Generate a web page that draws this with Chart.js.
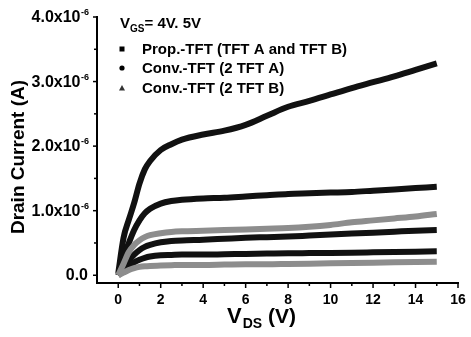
<!DOCTYPE html>
<html>
<head>
<meta charset="utf-8">
<script src="https://cdn.jsdelivr.net/npm/chart.js@4/dist/chart.umd.min.js"></script>
<style>
html,body{margin:0;padding:0;background:#fff;}
#wrap{width:471px;height:337px;position:relative;}
</style>
</head>
<body>
<div id="wrap"><canvas id="c" width="471" height="337"></canvas></div>
<script>
// ---- data (drain current in units of 1e-6 A) ----
const vds        = [0, 0.25, 0.5, 0.75, 1, 1.25, 1.5, 2, 2.5, 3, 4, 5, 6, 7, 8, 9, 10, 11, 12, 13, 14, 15];
const convA_Vgs5 = [0.03, 0.58, 0.86, 1.12, 1.42, 1.64, 1.77, 1.94, 2.03, 2.10, 2.18, 2.24, 2.33, 2.47, 2.61, 2.70, 2.80, 2.90, 2.99, 3.08, 3.18, 3.28];
const convA_Vgs4 = [0, 0.28, 0.50, 0.70, 0.85, 0.96, 1.03, 1.11, 1.15, 1.17, 1.19, 1.20, 1.22, 1.24, 1.26, 1.27, 1.28, 1.29, 1.31, 1.33, 1.35, 1.37];
const convB_Vgs5 = [0, 0.18, 0.36, 0.47, 0.54, 0.59, 0.62, 0.65, 0.67, 0.68, 0.69, 0.70, 0.71, 0.72, 0.73, 0.75, 0.78, 0.82, 0.85, 0.88, 0.91, 0.95];
const prop_Vgs5  = [0, 0.12, 0.23, 0.32, 0.39, 0.44, 0.47, 0.51, 0.53, 0.54, 0.55, 0.565, 0.58, 0.59, 0.60, 0.615, 0.63, 0.645, 0.66, 0.675, 0.69, 0.70];
const prop_Vgs4  = [0, 0.07, 0.14, 0.20, 0.24, 0.27, 0.29, 0.31, 0.315, 0.32, 0.32, 0.325, 0.33, 0.335, 0.34, 0.343, 0.346, 0.35, 0.355, 0.36, 0.365, 0.37];
const convB_Vgs4 = [0, 0.04, 0.08, 0.11, 0.13, 0.14, 0.145, 0.15, 0.155, 0.16, 0.16, 0.165, 0.17, 0.17, 0.175, 0.18, 0.185, 0.19, 0.195, 0.20, 0.205, 0.21];

const xTickLabels = ['0', '2', '4', '6', '8', '10', '12', '14', '16'];
const yTickLabels = ['0.0', '1.0', '2.0', '3.0', '4.0'];
const yTickExp = '-6';
const legendLabels = ['Prop.-TFT (TFT A and TFT B)', 'Conv.-TFT (2 TFT A)', 'Conv.-TFT (2 TFT B)'];
const vgsLabel = ['V', 'GS', '= 4V. 5V'];
const xTitle = ['V', 'DS', ' (V)'];
const yTitle = 'Drain Current (A)';

// ---- chart ----
const BLACK = '#111111', GRAY = '#8d8d8d';
const FONT = '"Liberation Sans", Arial, sans-serif';
function pts(arr){ return vds.map((v,i)=>({x:v, y:arr[i]})); }
function ds(arr, color, w){
  return {data: pts(arr), borderColor: color, backgroundColor: color, borderWidth: w,
          pointRadius: 0, cubicInterpolationMode: 'monotone', fill: false};
}

const decor = {
  id: 'decor',
  afterDraw(chart){
    const ctx = chart.ctx, xs = chart.scales.x, ys = chart.scales.y;
    const ca = chart.chartArea;
    ctx.save();
    ctx.strokeStyle = '#000'; ctx.fillStyle = '#000'; ctx.lineWidth = 1.5;
    // x ticks
    for (let v = 0; v <= 16; v++) {
      const px = xs.getPixelForValue(v);
      const len = (v % 2 === 0) ? 5 : 3;
      ctx.beginPath(); ctx.moveTo(px, ca.bottom); ctx.lineTo(px, ca.bottom + len); ctx.stroke();
    }
    // y ticks
    for (let k = 0; k <= 8; k++) {
      const py = ys.getPixelForValue(k * 0.5);
      const len = (k % 2 === 0) ? 4 : 3;
      ctx.beginPath(); ctx.moveTo(ca.left, py); ctx.lineTo(ca.left - len, py); ctx.stroke();
    }
    // x tick labels
    ctx.font = 'bold 14px ' + FONT; ctx.textAlign = 'center'; ctx.textBaseline = 'alphabetic';
    xTickLabels.forEach(t => { ctx.fillText(t, xs.getPixelForValue(parseFloat(t)), 304); });
    // y tick labels with superscript exponent
    yTickLabels.forEach(t => {
      const py = ys.getPixelForValue(parseFloat(t));
      if (t === '0.0') {
        ctx.font = 'bold 16px ' + FONT; ctx.textAlign = 'right';
        ctx.fillText(t, 88, py + 5);
      } else {
        ctx.font = 'bold 9px ' + FONT; ctx.textAlign = 'right';
        const ew = ctx.measureText(yTickExp).width;
        ctx.fillText(yTickExp, 89, py - 2);
        ctx.font = 'bold 16px ' + FONT;
        ctx.fillText(t + 'x10', 89 - ew - 0.5, py + 5);
      }
    });
    // y title
    ctx.save();
    ctx.translate(19, 157);
    ctx.rotate(-Math.PI / 2);
    ctx.font = 'bold 19px ' + FONT; ctx.textAlign = 'center'; ctx.textBaseline = 'middle';
    ctx.fillText(yTitle, 0, 0);
    ctx.restore();
    // x title with subscript
    ctx.textAlign = 'left'; ctx.textBaseline = 'alphabetic';
    let x0 = 227;
    ctx.font = 'bold 22px ' + FONT; ctx.fillText(xTitle[0], x0, 323); x0 += ctx.measureText(xTitle[0]).width + 1;
    ctx.font = 'bold 14px ' + FONT; ctx.fillText(xTitle[1], x0, 328); x0 += ctx.measureText(xTitle[1]).width;
    ctx.font = 'bold 21px ' + FONT; ctx.fillText(xTitle[2], x0, 323);
    // VGS label
    x0 = 120;
    ctx.font = 'bold 15px ' + FONT; ctx.fillText(vgsLabel[0], x0, 28); x0 += ctx.measureText(vgsLabel[0]).width;
    ctx.font = 'bold 10px ' + FONT; ctx.fillText(vgsLabel[1], x0, 32); x0 += ctx.measureText(vgsLabel[1]).width;
    ctx.font = 'bold 15px ' + FONT; ctx.fillText(vgsLabel[2], x0, 28);
    // legend
    const rows = [49, 68, 88];
    ctx.font = 'bold 15px ' + FONT; ctx.textBaseline = 'middle';
    legendLabels.forEach((t, i) => {
      const y = rows[i];
      ctx.fillStyle = '#000';
      if (i === 0) { ctx.fillRect(119.5, y - 2.5, 5, 5); }
      else if (i === 1) { ctx.beginPath(); ctx.arc(122, y, 2.6, 0, Math.PI * 2); ctx.fill(); }
      else { ctx.fillStyle = '#333'; ctx.beginPath(); ctx.moveTo(122, y - 3); ctx.lineTo(125, y + 2.5); ctx.lineTo(119, y + 2.5); ctx.closePath(); ctx.fill(); }
      ctx.fillStyle = '#000';
      ctx.fillText(t, 142, y + 1);
    });
    ctx.restore();
  }
};

new Chart(document.getElementById('c'), {
  type: 'line',
  data: {
    datasets: [
      ds(convB_Vgs4, GRAY, 6),
      ds(convB_Vgs5, GRAY, 6),
      ds(prop_Vgs4, BLACK, 6),
      ds(prop_Vgs5, BLACK, 6),
      ds(convA_Vgs4, BLACK, 6),
      ds(convA_Vgs5, BLACK, 6)
    ]
  },
  options: {
    responsive: false, animation: false, devicePixelRatio: 1,
    layout: { padding: { left: 0, top: 17, right: 13, bottom: 0 } },
    plugins: { legend: { display: false }, tooltip: { enabled: false } },
    scales: {
      x: {
        type: 'linear', min: -1, max: 16,
        grid: { display: false },
        border: { display: true, color: '#000', width: 2 },
        ticks: { display: false },
        afterFit(s){ s.height = 54; }
      },
      y: {
        type: 'linear', min: -0.12, max: 4.0,
        grid: { display: false },
        border: { display: true, color: '#000', width: 2 },
        ticks: { display: false },
        afterFit(s){ s.width = 97; }
      }
    }
  },
  plugins: [decor]
});
</script>
</body>
</html>
